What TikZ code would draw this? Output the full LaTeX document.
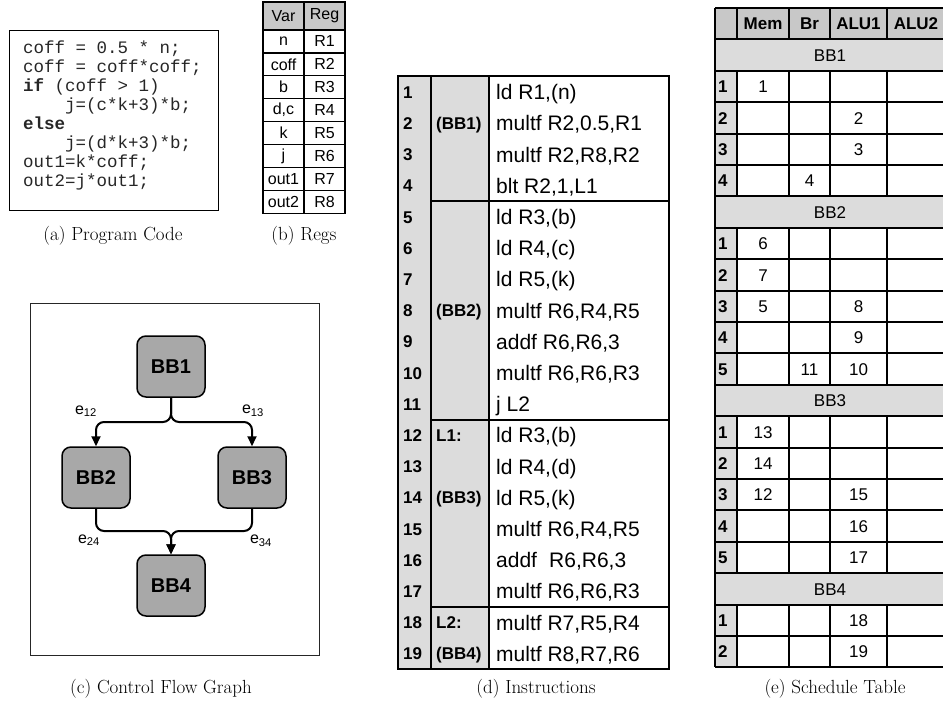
\documentclass[tikz,border=0pt]{standalone}
\usepackage{fontspec}
\newfontfamily\arialf{Liberation Sans}
\newfontfamily\courf{Liberation Mono}
\usetikzlibrary{arrows.meta}
\definecolor{bbgray}{HTML}{A8A8A8}
\definecolor{hdrgray}{HTML}{C8C8C8}
\definecolor{lgray}{HTML}{DCDCDC}
\begin{document}
\begin{tikzpicture}[x=1pt,y=-1pt,
  frame/.style={draw, inner sep=0pt, anchor=north west},
  codetxt/.style={anchor=base west, inner sep=0pt, text=black!85, font=\courf\fontsize{17.5}{19}\selectfont},
  regtxt/.style={inner sep=0pt, font=\arialf\fontsize{16}{18}\selectfont},
  numtxt/.style={anchor=base west, inner sep=0pt, font=\arialf\bfseries\fontsize{17}{19}\selectfont},
  instxt/.style={anchor=base west, inner sep=0pt, font=\arialf\fontsize{21}{24}\selectfont},
  celltxt/.style={anchor=base, inner sep=0pt, font=\arialf\fontsize{17}{19}\selectfont},
  hdrtxt/.style={anchor=base, inner sep=0pt, font=\arialf\bfseries\fontsize{17}{19}\selectfont},
  captxt/.style={inner sep=0pt, font=\fontsize{19}{22}\selectfont},
  bb/.style={draw, line width=1.5pt, fill=bbgray, rounded corners=9pt, minimum width=68pt, minimum height=61pt, inner sep=0pt, font=\arialf\bfseries\fontsize{20}{24}\selectfont},
  edge/.style={line width=2pt, -{Triangle[length=10pt,width=9pt]}, rounded corners=8pt},
  elab/.style={inner sep=0pt, font=\arialf\fontsize{16}{18}\selectfont},
  tline/.style={line width=2pt},
]
\useasboundingbox (0,0) rectangle (943,712);

% ---------------- (a) Program code ----------------
\node[frame, line width=1.3pt, minimum width=209pt, minimum height=180pt] (codebox) at (9,30) {};
\node[codetxt] (c1) at (23,53) {coff = 0.5 * n;};
\node[codetxt] (c2) at (23,72) {coff = coff*coff;};
\node[codetxt] (c3) at (23,91) {\textbf{if} (coff > 1)};
\node[codetxt] (c4) at (23,110) {\phantom{xxxx}j=(c*k+3)*b;};
\node[codetxt] (c5) at (23,129) {\textbf{else}};
\node[codetxt] (c6) at (23,148) {\phantom{xxxx}j=(d*k+3)*b;};
\node[codetxt] (c7) at (23,167) {out1=k*coff;};
\node[codetxt] (c8) at (23,186) {out2=j*out1;};
\node[captxt] (capa) at (113,236) {(a) Program Code};

% ---------------- (b) Regs ----------------
\fill[hdrgray] (263,2) rectangle (345,30);
\draw[line width=1.2pt] (263,2) rectangle (345,213.2);
\draw[line width=1.2pt] (304,2) -- (304,213.2);
\foreach \r in {0,...,7} { \draw[line width=1.2pt] (263,{30+\r*22.9}) -- (345,{30+\r*22.9}); }
\node[regtxt] (hv) at (283.5,16) {Var};
\node[regtxt] (hr) at (324.5,16) {Reg};
\foreach \r/\v/\g in {1/n/R1, 2/coff/R2, 3/b/R3, 4/{d,c}/R4, 5/k/R5, 6/j/R6, 7/out1/R7, 8/out2/R8} {
  \node[regtxt] (v\r) at (283.5,{30+(\r-0.5)*22.9}) {\v};
  \node[regtxt] (g\r) at (324.5,{30+(\r-0.5)*22.9}) {\g};
}
\node[captxt] (capb) at (304,236) {(b) Regs};

% ---------------- (c) Control flow graph ----------------
\node[frame, line width=1.1pt, draw=black!85, minimum width=289pt, minimum height=352pt] (cfgbox) at (30,303) {};
\node[bb] (BB1) at (171,366.5) {BB1};
\node[bb] (BB2) at (96,477.5) {BB2};
\node[bb] (BB3) at (252,477.5) {BB3};
\node[bb] (BB4) at (171,585.5) {BB4};
\coordinate (k2) at (96,422);
\coordinate (k3) at (252,422);
\coordinate (m2) at (171,531);
\coordinate (m3) at (171,531);
\draw[edge] (BB1.south) |- (k2) -- (BB2.north);
\draw[edge] (BB1.south) |- (k3) -- (BB3.north);
\draw[edge] (BB2.south) |- (m2) -- (BB4.north);
\draw[edge] (BB3.south) |- (m3) -- (BB4.north);
\node[elab] (e12) at (86,411) {e\textsubscript{12}};
\node[elab] (e13) at (253,411) {e\textsubscript{13}};
\node[elab] (e24) at (89,540) {e\textsubscript{24}};
\node[elab] (e34) at (261,541) {e\textsubscript{34}};
\node[captxt] (capc) at (161,689) {(c) Control Flow Graph};

% ---------------- (d) Instructions ----------------
\fill[lgray] (398,76.4) rectangle (489,669);
\draw[tline] (398,76.4) rectangle (669,669);
\draw[tline] (431,76.4) -- (431,669);
\draw[tline] (489,76.4) -- (489,669);
\foreach \yy in {201.2,419.6,606.8} { \draw[tline] (431,\yy) -- (669,\yy); }
\foreach \n/\lab/\ins in {1//{ld R1,(n)}, 2/(BB1)/{multf R2,0.5,R1}, 3//{multf R2,R8,R2}, 4//{blt R2,1,L1},
  5//{ld R3,(b)}, 6//{ld R4,(c)}, 7//{ld R5,(k)}, 8/(BB2)/{multf R6,R4,R5}, 9//{addf R6,R6,3},
  10//{multf R6,R6,R3}, 11//{j L2}, 12/L1:/{ld R3,(b)}, 13//{ld R4,(d)}, 14/(BB3)/{ld R5,(k)},
  15//{multf R6,R4,R5}, 16//{addf\hspace{0.3em} R6,R6,3}, 17//{multf R6,R6,R3}, 18/L2:/{multf R7,R5,R4}, 19/(BB4)/{multf R8,R7,R6}} {
  \node[numtxt] (n\n) at (403,{76.4+(\n-0.5)*31.2+6.2}) {\n};
  \node[numtxt] (l\n) at (436,{76.4+(\n-0.5)*31.2+6.2}) {\lab};
  \node[instxt] (i\n) at (496,{76.4+(\n-0.5)*31.2+7.6}) {\ins};
}
\node[captxt] (capd) at (536,689) {(d) Instructions};

% ---------------- (e) Schedule table ----------------
\fill[hdrgray] (715,8) rectangle (946,39.4);
\foreach \r in {1,6,12,18} { \fill[lgray] (715,{8+\r*31.4}) rectangle (946,{8+(\r+1)*31.4}); }
\foreach \r in {2,3,4,5,7,8,9,10,11,13,14,15,16,17,19,20} {
  \fill[lgray] (715,{8+\r*31.4}) rectangle (737,{8+(\r+1)*31.4});
  \foreach \xx in {737,789,830,887} { \draw[tline] (\xx,{8+\r*31.4}) -- (\xx,{8+(\r+1)*31.4}); }
}
\foreach \xx in {737,789,830,887} { \draw[tline] (\xx,8) -- (\xx,39.4); }
\foreach \r in {0,...,21} { \draw[tline] (715,{8+\r*31.4}) -- (946,{8+\r*31.4}); }
\draw[tline] (715,8) -- (715,667.4);
\draw[tline] (945,8) -- (945,667.4);
\node[hdrtxt] (hm) at (763,{8+15.7+6.1}) {Mem};
\node[hdrtxt] (hb) at (809.5,{8+15.7+6.1}) {Br};
\node[hdrtxt] (ha1) at (858.5,{8+15.7+6.1}) {ALU1};
\node[hdrtxt] (ha2) at (916,{8+15.7+6.1}) {ALU2};
\foreach \r/\b in {1/BB1,6/BB2,12/BB3,18/BB4} {
  \node[celltxt] (bar\b) at (830,{8+(\r+0.5)*31.4+6.1}) {\b};
}
\foreach \r/\k/\m/\br/\a in {2/1/1//, 3/2///2, 4/3///3, 5/4//4/, 7/1/6//, 8/2/7//, 9/3/5//8, 10/4///9, 11/5//11/10,
  13/1/13//, 14/2/14//, 15/3/12//15, 16/4///16, 17/5///17, 19/1///18, 20/2///19} {
  \node[numtxt] (sr\r) at (718,{8+(\r+0.5)*31.4+6.1}) {\k};
  \node[celltxt] (sm\r) at (763,{8+(\r+0.5)*31.4+6.1}) {\m};
  \node[celltxt] (sb\r) at (809.5,{8+(\r+0.5)*31.4+6.1}) {\br};
  \node[celltxt] (sa\r) at (858.5,{8+(\r+0.5)*31.4+6.1}) {\a};
}
\node[captxt] (cape) at (835,689) {(e) Schedule Table};
\end{tikzpicture}
\end{document}
